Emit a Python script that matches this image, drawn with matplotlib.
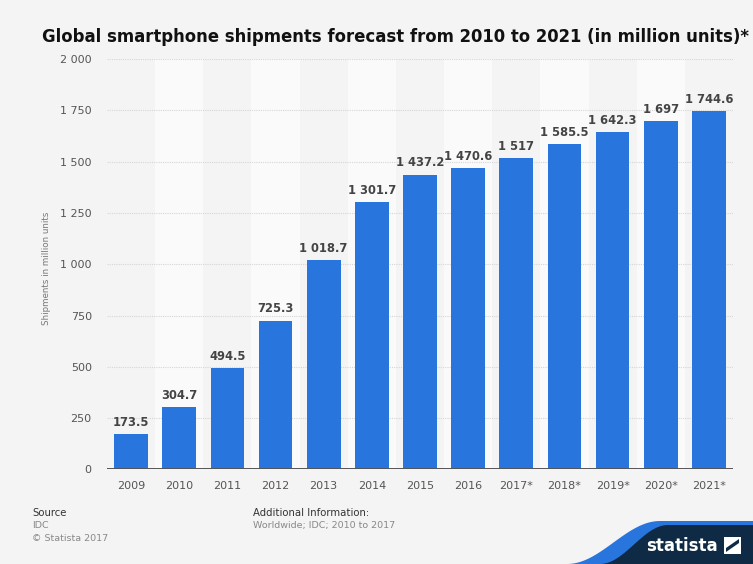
import numpy as np
import matplotlib.pyplot as plt
from matplotlib.patches import Polygon, Rectangle
from matplotlib.ticker import FuncFormatter

plt.rcParams['font.family'] = ['DejaVu Sans']

years = ['2009', '2010', '2011', '2012', '2013', '2014', '2015', '2016',
         '2017*', '2018*', '2019*', '2020*', '2021*']
shipments = [173.5, 304.7, 494.5, 725.3, 1018.7, 1301.7, 1437.2, 1470.6,
             1517, 1585.5, 1642.3, 1697, 1744.6]

BLUE = '#2876dd'
BG = '#f4f4f4'


def spaced(v):
    # thousands separated by a space, decimals only when needed
    if float(v).is_integer():
        return '{:,.0f}'.format(v).replace(',', ' ')
    return '{:,.1f}'.format(v).replace(',', ' ')


fig = plt.figure(figsize=(7.53, 5.64), dpi=100, facecolor=BG)
ax = fig.add_axes([0.1421, 0.1676, 0.8313, 0.7278])
ax.set_facecolor(BG)

x = np.arange(len(years))

# alternating column shading
for i in x:
    if i % 2 == 1:
        ax.axvspan(i - 0.5, i + 0.5, color='#fafafa', zorder=0, lw=0)

ax.set_xlim(-0.5, len(years) - 0.5)
ax.set_ylim(0, 2000)
ax.set_yticks(np.arange(0, 2001, 250))
ax.yaxis.set_major_formatter(FuncFormatter(lambda v, p: spaced(v)))
ax.grid(axis='y', color='#d6d6d6', linestyle=(0, (1, 1)), lw=0.8, zorder=1)

bars = ax.bar(x, shipments, width=0.7, color=BLUE, zorder=2)
for xi, v in zip(x, shipments):
    ax.text(xi, v + 25, spaced(v), ha='center', va='bottom',
            fontsize=8.3, fontweight='bold', color='#444444', zorder=3)

ax.axhline(0, color='#555555', lw=1.4, zorder=3)

ax.set_xticks(x)
ax.set_xticklabels(years)
ax.tick_params(axis='both', length=0, labelsize=8, labelcolor='#555555')
ax.tick_params(axis='x', pad=8)
ax.tick_params(axis='y', pad=11)
for s in ax.spines.values():
    s.set_visible(False)

ax.set_ylabel('Shipments in million units', fontsize=6.3, color='#777777')
ax.yaxis.set_label_coords(-0.089, 0.49)

fig.text(0.525, 0.935, 'Global smartphone shipments forecast from 2010 to 2021 '
         '(in million units)*', ha='center', va='center', fontsize=11.9,
         fontweight='bold', color='#111111')

# footer
fig.text(0.043, 0.090, 'Source', fontsize=7.3, color='#333333', va='center')
fig.text(0.043, 0.068, 'IDC', fontsize=6.8, color='#888888', va='center')
fig.text(0.043, 0.046, '\u00a9 Statista 2017', fontsize=6.8, color='#888888',
         va='center')
fig.text(0.336, 0.090, 'Additional Information:', fontsize=7.3,
         color='#333333', va='center')
fig.text(0.336, 0.068, 'Worldwide; IDC; 2010 to 2017', fontsize=6.8,
         color='#888888', va='center')

# logo swoosh in pixel coordinates
W, H = 753, 564
t = np.linspace(0, 1, 40)
s = 0.5 - 0.5 * np.cos(np.pi * t)
blue_x = 567 + (660 - 567) * t
blue_y = 564 - (564 - 521) * s
blue = list(zip(blue_x, blue_y)) + [(753, 521), (753, 564)]
navy_x = 600 + (668 - 600) * t
navy_y = 564 - (564 - 525) * s
navy = list(zip(navy_x, navy_y)) + [(753, 525), (753, 564)]
for pts, col in ((blue, BLUE), (navy, '#0f2a44')):
    fig.patches.append(Polygon([(px / W, 1 - py / H) for px, py in pts],
                               closed=True, transform=fig.transFigure,
                               color=col, lw=0))
fig.text(682 / W, 1 - 546 / H, 'statista', fontsize=12, fontweight='bold',
         color='white', ha='center', va='center')
fig.patches.append(Rectangle((724 / W, 1 - 554 / H), 17 / W, 17 / H,
                             transform=fig.transFigure, color='white', lw=0))
fig.patches.append(Polygon([((724 + px) / W, 1 - (554 - py) / H) for px, py in
                            [(2, 6), (15, 15), (15, 11), (2, 2)]],
                           closed=True, transform=fig.transFigure,
                           color='#0f2a44', lw=0))

fig.savefig('out.png', dpi=100, facecolor=BG)
